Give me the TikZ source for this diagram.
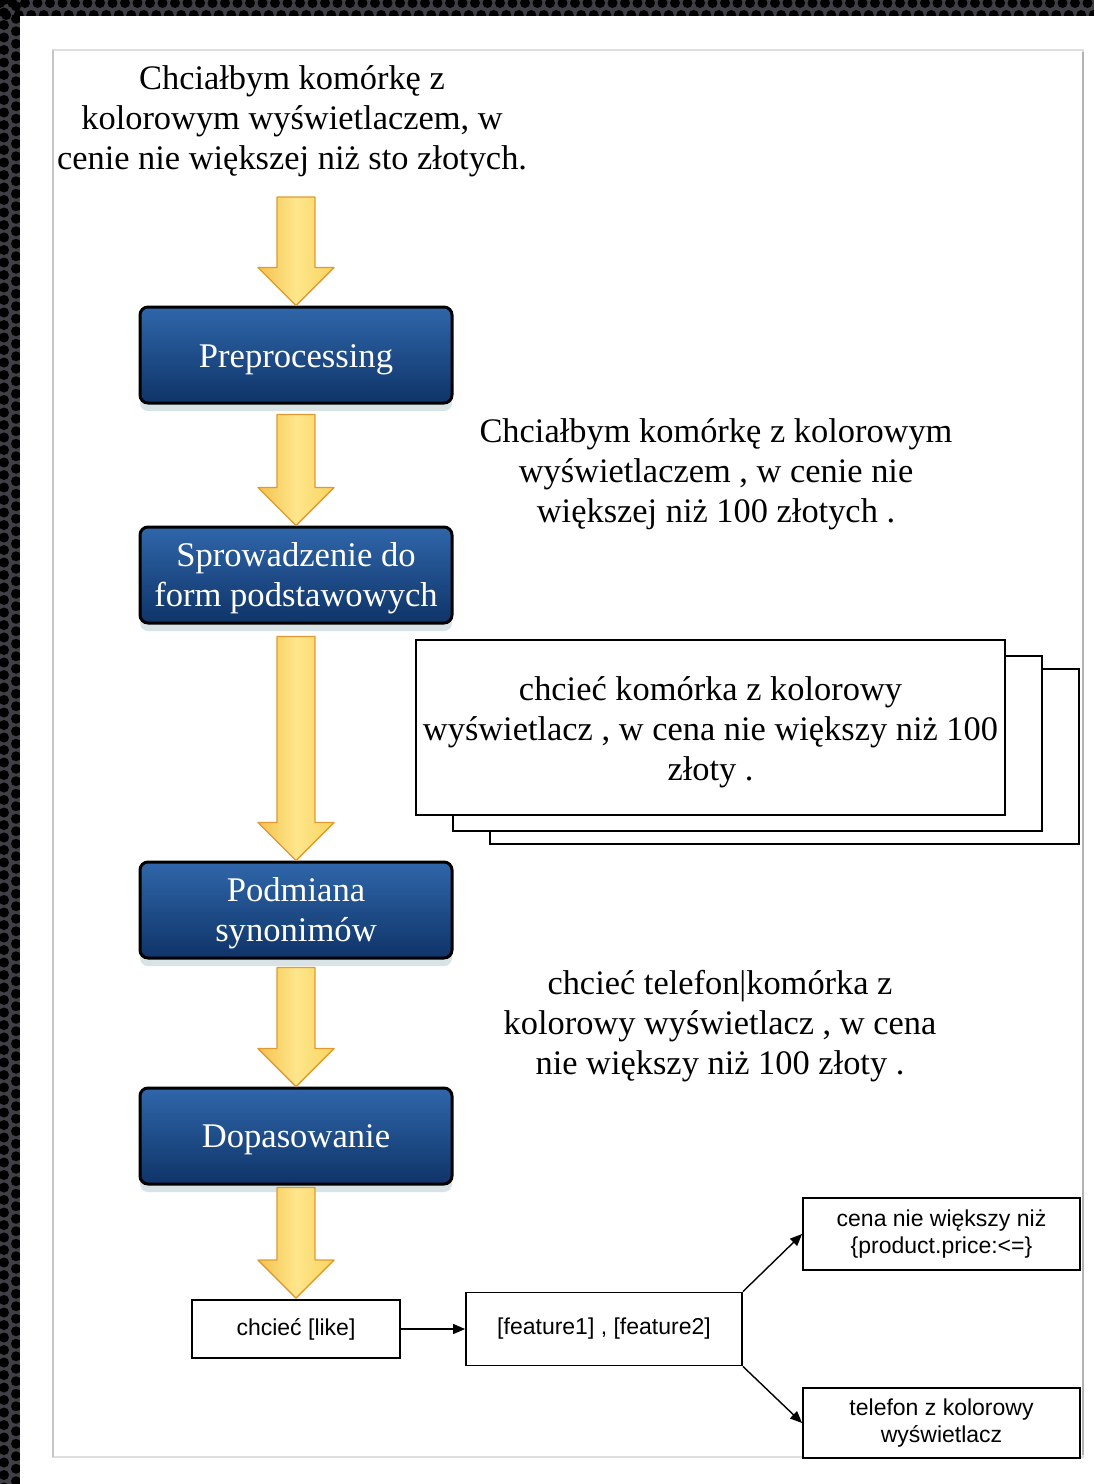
\documentclass[tikz,border=0pt]{standalone}
\usepackage{fontspec}
\setmainfont{Liberation Serif}
\setsansfont{Liberation Sans}
\usetikzlibrary{calc,shadows,arrows.meta}
\definecolor{frameD}{HTML}{3E4045}
\definecolor{blueTop}{HTML}{2F66AA}
\definecolor{blueBot}{HTML}{0F3468}
\definecolor{arrEdge}{HTML}{E09A32}
\definecolor{arrL}{HTML}{F4C24C}
\definecolor{arrM}{HTML}{FEE68C}
\definecolor{arrR}{HTML}{F8D45E}
\definecolor{shadowC}{HTML}{8FB0B4}
\newcommand\yarr[2]{\path[yarrow] let \p1=(#1), \p2=(#2) in
  (\x2-9.5pt,\y1) -- (\x2+9.5pt,\y1) -- (\x2+9.5pt,\y2+19pt) -- (\x2+19pt,\y2+19pt)
  -- (\x2,\y2) -- (\x2-19pt,\y2+19pt) -- (\x2-9.5pt,\y2+19pt) -- cycle;}
\tikzset{
  bluebox/.style={draw=black, line width=1.5pt, rounded corners=4pt,
    top color=blueTop, bottom color=blueBot,
    minimum width=156pt, minimum height=48pt, inner sep=2pt,
    drop shadow={shadow xshift=0pt, shadow yshift=-4pt, opacity=0.35, fill=shadowC}},
  bluetext/.style={text=white, align=center, inner sep=0pt, font=\fontsize{17.3}{20}\selectfont},
  yarrow/.style={draw=arrEdge, line width=0.7pt, left color=arrL, right color=arrR, middle color=arrM, line join=round},
  serift/.style={align=center, font=\fontsize{17.2}{20}\selectfont, inner sep=0pt},
  stackbox/.style={draw=black, line width=1pt, fill=white, minimum width=294.5pt, minimum height=87.5pt},
  smallbox/.style={draw=black, line width=0.9pt, fill=white, align=center, inner sep=0pt,
    font=\sffamily\fontsize{11.5}{13.5}\selectfont},
  conn/.style={line width=0.7pt, -{Triangle[length=6pt,width=5pt]}}
}
\begin{document}
\begin{tikzpicture}[x=0.5pt,y=-0.5pt]
\useasboundingbox (0,0) rectangle (1094,1484);
% background frame with dot pattern
\fill[frameD] (0,0) rectangle (1094,1484);
\begin{scope}
  \clip (0,0) rectangle (1094,16) (0,0) rectangle (20,1484);
  \foreach \i in {0,...,88}{
    \fill[black] (\i*12.5,3) circle (5);
    \fill[black] (\i*12.5+6.25,15) circle (5);
  }
  \foreach \j in {0,...,119}{
    \fill[black] (4,\j*12.5) circle (5);
    \fill[black] (16,\j*12.5+6.25) circle (5);
  }
\end{scope}
\fill[white] (20,16) rectangle (1094,1484);
% inner frame
\draw[gray!25, line width=0.8pt] (53,50) rectangle (1083,1457);
\draw[gray!45, line width=1.2pt] (53,50) -- (53,1457);
\draw[gray!60, line width=1.4pt] (1083,52) -- (1083,1455);

% texts
\node[serift] (t1) at (292,121) {Chciałbym komórkę z\\kolorowym wyświetlaczem, w\\cenie nie większej niż sto złotych.};
\coordinate (a1s) at (297,197);

\node[bluebox] (prep) at (296,355) {};
\node[bluebox] (sfp) at (296,575) {};
\node[bluebox] (pod) at (296,910) {};
\node[bluebox] (dop) at (296,1136) {};
\node[bluetext] (prept) at ([yshift=-2.5pt]prep.center) {Preprocessing};
\node[bluetext] (sfpt) at ([yshift=-1.5pt]sfp.center) {Sprowadzenie do\\form podstawowych};
\node[bluetext] (podt) at ([yshift=-1.5pt]pod.center) {Podmiana\\synonimów};
\node[bluetext] (dopt) at ([yshift=-2pt]dop.center) {Dopasowanie};

\node[serift] (t2) at (716,474) {Chciałbym komórkę z kolorowym\\wyświetlaczem , w cenie nie\\większej niż 100 złotych .};

\node[stackbox] (s3) at (784,756.5) {};
\node[stackbox] (s2) at (747.5,743) {};
\node[stackbox] (s1) at (710.5,727.5) {};
\node[serift] (s1t) at ([yshift=-2.5pt]s1.center) {chcieć komórka z kolorowy\\wyświetlacz , w cena nie większy niż 100\\złoty .};

\node[serift] (t3) at (720,1026) {chcieć telefon|komórka z\\kolorowy wyświetlacz , w cena\\nie większy niż 100 złoty .};

% yellow arrows
\yarr{a1s}{prep.north}
\yarr{[yshift=-5pt]prep.south}{sfp.north}
\yarr{[yshift=-6pt]sfp.south}{pod.north}
\yarr{[yshift=-4pt]pod.south}{dop.north}
\yarr{[yshift=-1pt]dop.south}{296,1298}

% bottom boxes
\node[smallbox, minimum width=104pt, minimum height=29pt] (like) at (296,1329) {chcieć [like]};
\node[smallbox, minimum width=138pt, minimum height=36.5pt] (feat) at (604,1329) {[feature1] , [feature2]};
\node[smallbox, minimum width=138.5pt, minimum height=36pt] (cena) at (941.5,1234) {cena nie większy niż\\\{product.price:<=\}};
\node[smallbox, minimum width=138.5pt, minimum height=35pt] (tel) at (941.5,1423) {telefon z kolorowy\\wyświetlacz};

\draw[conn] (like.east) -- (feat.west);
\draw[conn] (feat.north east) -- (cena.west);
\draw[conn] (feat.south east) -- (tel.west);
\end{tikzpicture}
\end{document}
